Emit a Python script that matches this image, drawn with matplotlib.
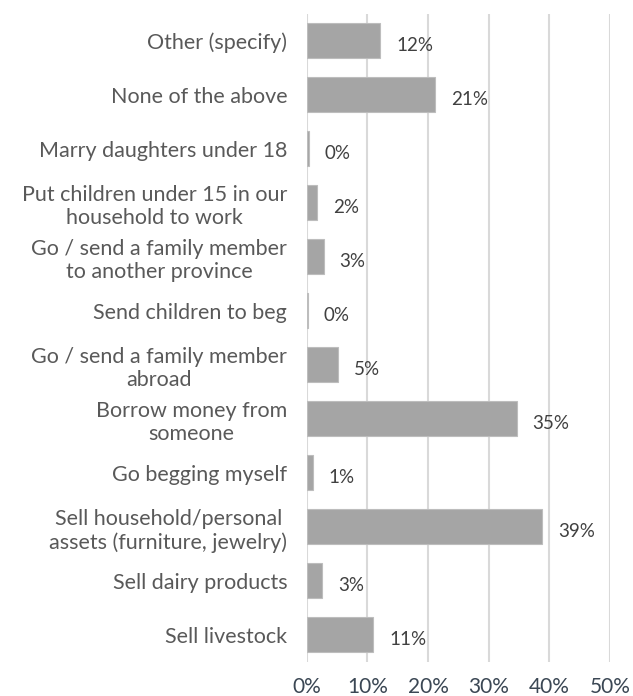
import matplotlib
matplotlib.use("Agg")
import matplotlib.pyplot as plt

plt.rcParams['font.family'] = ['Lato', 'DejaVu Sans']

# bottom to top, as drawn by barh
categories = [
    "Sell livestock",
    "Sell dairy products",
    "Sell household/personal\nassets (furniture, jewelry)",
    "Go begging myself",
    "Borrow money from\nsomeone",
    "Go / send a family member\nabroad",
    "Send children to beg",
    "Go / send a family member\nto another province",
    "Put children under 15 in our\nhousehold to work",
    "Marry daughters under 18",
    "None of the above",
    "Other (specify)",
]
shares = [11.0, 2.5, 38.8, 1.0, 34.6, 5.2, 0.2, 2.8, 1.7, 0.3, 21.2, 12.1]
value_labels = ["11%", "3%", "39%", "1%", "35%", "5%", "0%", "3%", "2%", "0%", "21%", "12%"]
ticks = [0, 10, 20, 30, 40, 50]

fig = plt.figure(figsize=(6.33, 6.96), dpi=100)
ax = fig.add_axes([0.4845, 0.049, 0.4792, 0.931])

y = range(len(categories))
ax.barh(y, shares, height=0.65, color="#A5A5A5", edgecolor="#BDBDBD",
        linewidth=0.8, zorder=3)

for yi, v, lab in zip(y, shares, value_labels):
    ax.annotate(lab, (v, yi), xytext=(11.5, -3), textcoords="offset points",
                ha="left", va="center", fontsize=13.5, color="#404040", zorder=4)

ax.set_xlim(0, 50)
ax.set_ylim(-0.5, len(categories) - 0.5)
ax.set_xticks(ticks)
ax.set_xticklabels([f"{t}%" for t in ticks], fontsize=15, color="#3B4754")
ax.set_yticks(list(y))
ax.set_yticklabels(categories, fontsize=15.5, color="#595959",
                   linespacing=1.2, ha="right", multialignment="center")
ax.tick_params(axis="y", length=0, pad=14)
ax.tick_params(axis="x", length=0, pad=11)

ax.grid(axis="x", color="#D9D9D9", linewidth=1.5, zorder=0)
for s in ["top", "right", "bottom", "left"]:
    ax.spines[s].set_visible(False)

fig.savefig("out.png", dpi=100)
